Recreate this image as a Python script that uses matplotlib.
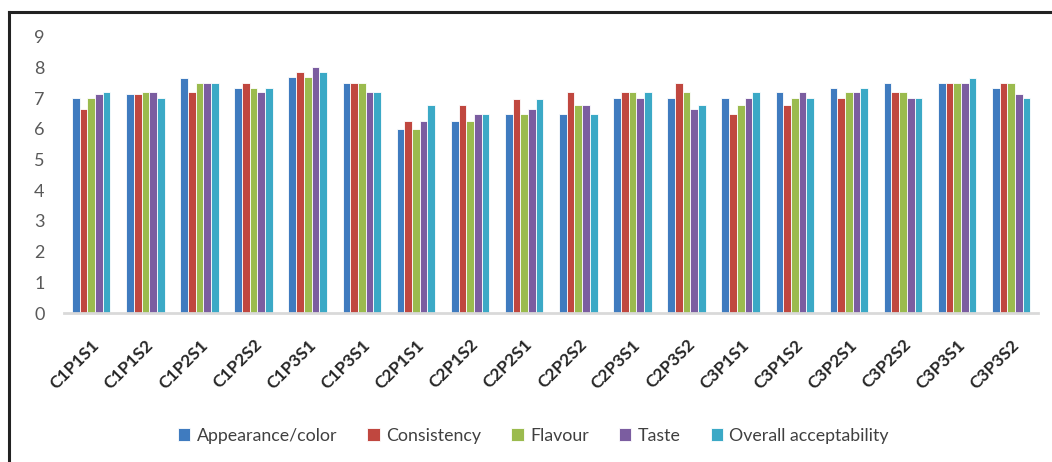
##load libraries
import numpy as np
import matplotlib
matplotlib.use("Agg")
import matplotlib.pyplot as plt
from matplotlib.lines import Line2D

plt.rcParams['font.family'] = ['Lato', 'DejaVu Sans']

##data
samples = ['C1P1S1', 'C1P1S2', 'C1P2S1', 'C1P2S2', 'C1P3S1', 'C1P3S1',
           'C2P1S1', 'C2P1S2', 'C2P2S1', 'C2P2S2', 'C2P3S1', 'C2P3S2',
           'C3P1S1', 'C3P1S2', 'C3P2S1', 'C3P2S2', 'C3P3S1', 'C3P3S2']

appearance = [7.0, 7.14, 7.65, 7.35, 7.71, 7.5, 6.0, 6.27, 6.48, 6.48, 7.0, 7.0,
              7.0, 7.21, 7.35, 7.5, 7.5, 7.35]
consistency = [6.64, 7.14, 7.21, 7.5, 7.85, 7.5, 6.27, 6.77, 6.98, 7.21, 7.21, 7.5,
               6.48, 6.77, 7.0, 7.21, 7.5, 7.5]
flavour = [7.0, 7.21, 7.5, 7.35, 7.71, 7.5, 6.0, 6.27, 6.48, 6.77, 7.21, 7.21,
           6.77, 7.0, 7.21, 7.21, 7.5, 7.5]
taste = [7.14, 7.21, 7.5, 7.21, 8.02, 7.21, 6.27, 6.48, 6.64, 6.77, 7.0, 6.64,
         7.0, 7.21, 7.21, 7.0, 7.5, 7.14]
overall = [7.21, 7.0, 7.5, 7.35, 7.85, 7.21, 6.77, 6.48, 6.98, 6.48, 7.21, 6.77,
           7.21, 7.0, 7.35, 7.0, 7.65, 7.0]

series = [appearance, consistency, flavour, taste, overall]
names = ['Appearance/color', 'Consistency', 'Flavour', 'Taste', 'Overall acceptability']
colors = ['#3F7BBF', '#C0473F', '#9BBB4E', '#7B5DA0', '#3BA9C6']

##set up the figure
fig = plt.figure(figsize=(10.52, 4.62), dpi=100)
ax = fig.add_axes([0.061, 0.3225, 0.926, 0.5975])

barwidth = 0.142
r = np.arange(len(samples))
for i, (vals, name, col) in enumerate(zip(series, names, colors)):
    ax.bar(r + (i - 2) * barwidth, vals, width=barwidth, color=col,
           edgecolor='white', linewidth=0.6, label=name)

ax.set_xlim(-0.5, len(samples) - 0.5)
ax.set_ylim(0, 9)
ax.set_yticks(range(0, 10))
ax.tick_params(axis='y', length=0, labelsize=13, labelcolor='#595959', pad=14)
ax.tick_params(axis='x', length=0, pad=17)
ax.set_xticks(r)
ax.set_xticklabels(samples, rotation=45, ha='right', rotation_mode='anchor',
                   fontsize=12.5, color='#262626', fontweight='bold')

for s in ['top', 'right', 'left']:
    ax.spines[s].set_visible(False)
ax.spines['bottom'].set_color('#d9d9d9')
ax.spines['bottom'].set_linewidth(2)

##legend
fig.legend(loc='center', bbox_to_anchor=(0.507, 0.057), ncol=5, frameon=False,
           fontsize=12.8, handlelength=0.7, handleheight=0.7, handletextpad=0.35,
           columnspacing=1.7, labelcolor='#404040')

##frame lines (top and left)
fig.add_artist(Line2D([0.0085, 1.0], [0.975, 0.975], color='#222222', lw=2.2))
fig.add_artist(Line2D([0.0085, 0.0085], [0.0, 0.975], color='#222222', lw=2.2))

fig.savefig('out.png', dpi=100)
